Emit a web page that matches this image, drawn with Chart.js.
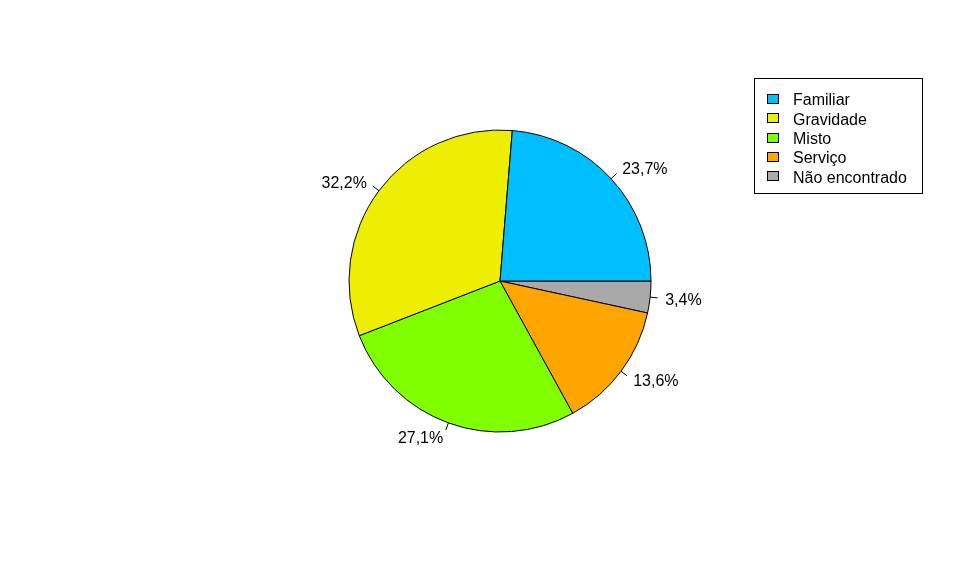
<!DOCTYPE html>
<html>
<head>
<meta charset="utf-8">
<script src="https://cdn.jsdelivr.net/npm/chart.js@4"></script>
<style>
  html, body { margin: 0; padding: 0; background: #ffffff; }
  #wrap { width: 963px; height: 582px; }
</style>
</head>
<body>
<div id="wrap"><canvas id="myChart" width="963" height="582"></canvas></div>
<script>
const categories = ['Familiar', 'Gravidade', 'Misto', 'Serviço', 'Não encontrado'];
const percentages = [23.7, 32.2, 27.1, 13.6, 3.4];
const sliceColors = ['#00BFFF', '#EEEE00', '#7FFF00', '#FFA500', '#A9A9A9'];

// R draws the pie counter-clockwise from 3 o'clock; Chart.js goes clockwise,
// so feed the slices in reverse order and start at 3 o'clock.
const chartLabels = categories.slice().reverse();
const chartValues = percentages.slice().reverse();
const chartColors = sliceColors.slice().reverse();

const FONT = '16px "Liberation Sans", Arial, sans-serif';

const sliceLabels = {
  id: 'sliceLabels',
  afterDatasetsDraw(chart) {
    const ctx = chart.ctx;
    const meta = chart.getDatasetMeta(0);
    const values = chart.data.datasets[0].data;
    ctx.save();
    ctx.strokeStyle = '#000';
    ctx.lineWidth = 1;
    ctx.fillStyle = '#000';
    ctx.font = FONT;
    ctx.textBaseline = 'middle';
    meta.data.forEach((arc, i) => {
      const mid = (arc.startAngle + arc.endAngle) / 2;
      const r = arc.outerRadius;
      const cx = Math.cos(mid), cy = Math.sin(mid);
      ctx.beginPath();
      ctx.moveTo(arc.x + cx * r, arc.y + cy * r);
      ctx.lineTo(arc.x + cx * r * 1.05, arc.y + cy * r * 1.05);
      ctx.stroke();
      ctx.textAlign = cx >= 0 ? 'left' : 'right';
      const txt = values[i].toFixed(1).replace('.', ',') + '%';
      ctx.fillText(txt, arc.x + cx * r * 1.1, arc.y + cy * r * 1.1 + 1.5);
    });
    ctx.restore();
  }
};

const boxLegend = {
  id: 'boxLegend',
  afterDraw(chart) {
    const ctx = chart.ctx;
    const left = 754, top = 78, right = 922, bottom = 193;
    ctx.save();
    ctx.strokeStyle = '#000';
    ctx.lineWidth = 1;
    ctx.strokeRect(left + 0.5, top + 0.5, right - left, bottom - top);
    ctx.font = FONT;
    ctx.textBaseline = 'middle';
    ctx.textAlign = 'left';
    categories.forEach((name, i) => {
      const y = 99 + i * 19.3;
      ctx.fillStyle = sliceColors[i];
      ctx.fillRect(767.5, Math.round(y - 5) + 0.5, 11, 9);
      ctx.strokeRect(767.5, Math.round(y - 5) + 0.5, 11, 9);
      ctx.fillStyle = '#000';
      ctx.fillText(name, 793, y + 2);
    });
    ctx.restore();
  }
};

new Chart(document.getElementById('myChart'), {
  type: 'pie',
  data: {
    labels: chartLabels,
    datasets: [{
      data: chartValues,
      backgroundColor: chartColors,
      borderColor: '#000000',
      borderWidth: 1,
      radius: 151
    }]
  },
  options: {
    responsive: false,
    animation: false,
    rotation: 90,
    layout: { padding: { left: 349, right: 312, top: 130, bottom: 150 } },
    plugins: {
      legend: { display: false },
      tooltip: { enabled: false }
    }
  },
  plugins: [sliceLabels, boxLegend]
});
</script>
</body>
</html>
